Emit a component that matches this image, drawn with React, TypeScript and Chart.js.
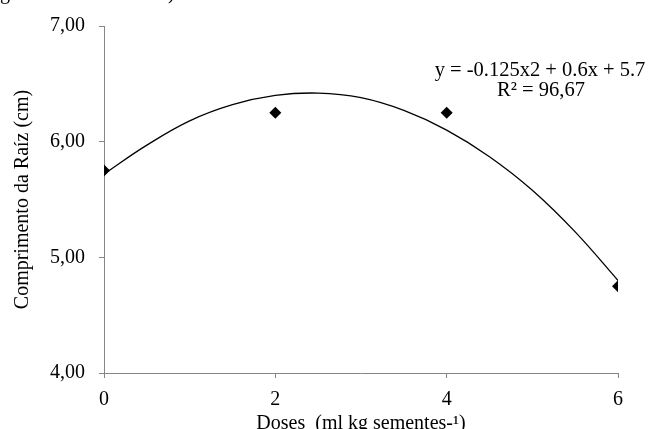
import React, { useEffect, useRef } from "react";
import { Chart, registerables } from "chart.js";

Chart.register(...registerables);

// Observed data
const doses: number[] = [0, 2, 4, 6];
const rootLength: number[] = [5.75, 6.25, 6.25, 4.75];

// Trend curve values
const trendX: number[] = [0, 0.5, 1, 1.5, 2, 2.5, 3, 3.5, 4, 4.5, 5, 5.5, 6];
const trendY: number[] = [5.72, 5.97, 6.18, 6.32, 6.4, 6.42, 6.38, 6.27, 6.1, 5.87, 5.58, 5.22, 4.8];

const xTicks: number[] = [0, 2, 4, 6];
const yTicks: number[] = [4, 5, 6, 7];

const equationLines: string[] = ["y = -0.125x2 + 0.6x + 5.7", "R² = 96,67"];
const xTitle = "Doses  (ml kg sementes-¹)";
const yTitle = "Comprimento da Raíz (cm)";

const FONT = '"Liberation Serif", "Times New Roman", serif';
const AXIS_GREY = "#868686";

const annotationPlugin = {
  id: "equation",
  afterDraw(chart: any) {
    const ctx = chart.ctx;
    ctx.save();
    ctx.fillStyle = "#000";
    ctx.font = `20.5px ${FONT}`;
    ctx.textAlign = "center";
    ctx.textBaseline = "alphabetic";
    ctx.fillText(equationLines[0], 540, 76);
    ctx.fillText(equationLines[1], 541, 96);
    // fragment of the caption line cut off at the top of the picture
    ctx.font = `20px ${FONT}`;
    ctx.textAlign = "left";
    ctx.fillText("g", 0, -1);
    ctx.fillText(")", 168, -1);
    ctx.restore();
  },
};

export default function App() {
  const canvasRef = useRef<HTMLCanvasElement | null>(null);

  useEffect(() => {
    document.body.style.margin = "0";
    const canvas = canvasRef.current;
    if (!canvas) return;
    const chart = new Chart(canvas, {
      type: "scatter",
      data: {
        datasets: [
          {
            type: "scatter",
            label: "points",
            data: doses.map((d, i) => ({ x: d, y: rootLength[i] })),
            pointStyle: "rectRot",
            pointRadius: 6,
            pointBackgroundColor: "#000",
            pointBorderColor: "#000",
            pointBorderWidth: 0,
            showLine: false,
            order: 0,
          },
          {
            type: "line",
            label: "trend",
            data: trendX.map((d, i) => ({ x: d, y: trendY[i] })),
            borderColor: "#000",
            borderWidth: 1.3,
            pointRadius: 0,
            tension: 0.4,
            fill: false,
            order: 1,
          },
        ],
      },
      options: {
        animation: false,
        responsive: false,
        devicePixelRatio: 1,
        layout: { padding: { left: 0, right: 36, top: 22, bottom: 0 } },
        plugins: {
          legend: { display: false },
          tooltip: { enabled: false },
        },
        scales: {
          x: {
            type: "linear",
            min: 0,
            max: 6,
            afterBuildTicks(scale: any) {
              scale.ticks = xTicks.map((v) => ({ value: v }));
            },
            afterFit(scale: any) {
              scale.height = 56;
            },
            ticks: {
              color: "#000",
              font: { family: FONT, size: 20 },
              padding: 10,
              maxRotation: 0,
            },
            grid: {
              drawOnChartArea: false,
              drawTicks: true,
              tickLength: 5,
              color: AXIS_GREY,
            },
            border: { display: true, color: AXIS_GREY, width: 1 },
            title: {
              display: true,
              text: xTitle,
              color: "#000",
              font: { family: FONT, size: 20 },
              padding: { top: 0, bottom: -7 },
            },
          },
          y: {
            type: "linear",
            min: 4,
            max: 7,
            afterBuildTicks(scale: any) {
              scale.ticks = yTicks.map((v) => ({ value: v }));
            },
            afterFit(scale: any) {
              scale.width = 104;
            },
            ticks: {
              color: "#000",
              font: { family: FONT, size: 20 },
              padding: 14,
              callback: (v: any) => Number(v).toFixed(2).replace(".", ","),
            },
            grid: {
              drawOnChartArea: false,
              drawTicks: true,
              tickLength: 5,
              color: AXIS_GREY,
            },
            border: { display: true, color: AXIS_GREY, width: 1 },
            title: {
              display: true,
              text: yTitle,
              color: "#000",
              font: { family: FONT, size: 20 },
              padding: { top: 11, bottom: 0 },
            },
          },
        },
      } as any,
      plugins: [annotationPlugin],
    });
    return () => chart.destroy();
  }, []);

  return (
    <div style={{ width: 654, height: 429, background: "#fff" }}>
      <canvas ref={canvasRef} width={654} height={429} style={{ display: "block" }} />
    </div>
  );
}
